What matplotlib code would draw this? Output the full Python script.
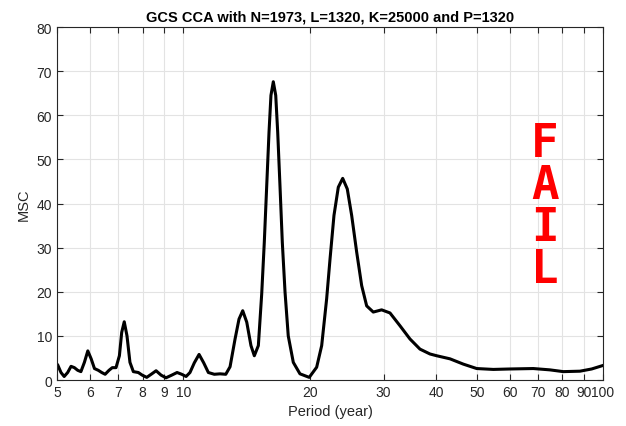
import numpy as np
import matplotlib
matplotlib.use("Agg")
import matplotlib.pyplot as plt

plt.rcParams['font.family'] = ['Liberation Sans', 'DejaVu Sans']

# values
period = [5.00, 5.02, 5.11, 5.20, 5.30, 5.40, 5.50, 5.60, 5.70, 5.81,
          5.92, 6.03, 6.14, 6.27, 6.39, 6.51, 6.65, 6.77, 6.91, 7.04,
          7.13, 7.23, 7.34, 7.46, 7.60, 7.81, 7.98, 8.18, 8.41, 8.61,
          8.85, 9.09, 9.38, 9.66, 9.91, 10.15, 10.37, 10.62, 10.90, 11.18,
          11.47, 11.85, 12.23, 12.62, 12.92, 13.28, 13.57, 13.85, 14.16, 14.49,
          14.76, 15.09, 15.37, 15.59, 15.80, 16.00, 16.17, 16.38, 16.60, 16.78,
          16.99, 17.21, 17.47, 17.78, 18.28, 18.96, 19.95, 20.78, 21.36, 21.95,
          22.36, 22.85, 23.40, 23.97, 24.58, 25.18, 25.88, 26.60, 27.34, 28.35,
          29.68, 31.07, 32.82, 34.67, 36.63, 38.69, 40.14, 43.19, 46.46, 50.0,
          54.77, 60.0, 68.2, 74.7, 80.4, 88.1, 93.96, 100.0]
msc = [3.6, 3.4, 1.7, 0.8, 1.7, 3.1, 2.8, 2.2, 1.9, 4.0,
       6.6, 4.8, 2.6, 2.2, 1.7, 1.3, 2.2, 2.8, 2.8, 5.5,
       10.8, 13.2, 10.0, 4.0, 1.9, 1.7, 1.1, 0.6, 1.4, 2.1,
       1.1, 0.5, 1.1, 1.7, 1.3, 0.8, 1.7, 3.9, 5.8, 3.9,
       1.7, 1.3, 1.4, 1.3, 3.0, 9.3, 13.8, 15.7, 13.1, 7.8,
       5.5, 7.8, 19.5, 31.2, 44.1, 56.2, 64.5, 67.6, 64.5, 56.2,
       44.1, 31.2, 19.9, 10.0, 4.0, 1.4, 0.6, 2.9, 7.8, 18.4,
       27.4, 37.3, 43.7, 45.7, 43.3, 37.3, 29.0, 21.4, 16.8, 15.4,
       15.9, 15.2, 12.3, 9.3, 7.0, 5.9, 5.5, 4.8, 3.6, 2.6,
       2.4, 2.5, 2.6, 2.3, 1.9, 2.0, 2.5, 3.3]

xticks = [5, 6, 7, 8, 9, 10, 20, 30, 40, 50, 60, 70, 80, 90, 100]
yticks = [0, 10, 20, 30, 40, 50, 60, 70, 80]

fig = plt.figure(figsize=(6.26, 4.27), dpi=100)
ax = fig.add_axes([0.0911, 0.1077, 0.8722, 0.8267])

ax.plot(period, msc, color='black', linewidth=2.2, solid_joinstyle='round')

ax.set_xscale('log')
ax.set_xlim(5, 100)
ax.set_ylim(0, 80)
ax.set_xticks(xticks)
ax.set_xticklabels([str(t) for t in xticks])
ax.xaxis.set_minor_locator(matplotlib.ticker.NullLocator())
ax.set_yticks(yticks)

ax.grid(True, color='#e3e3e3', linewidth=0.8)
ax.set_axisbelow(True)
ax.tick_params(direction='in', top=True, right=True, length=4,
               labelsize=10, colors='#262626', labelcolor='#262626')
for s in ax.spines.values():
    s.set_linewidth(0.8)
    s.set_color('#262626')

ax.set_title('GCS CCA with N=1973, L=1320, K=25000 and P=1320',
             fontsize=10.5, fontweight='bold', pad=5)
ax.set_xlabel('Period (year)', fontsize=10.5, color='#262626')
ax.set_ylabel('MSC', fontsize=10.5, color='#262626')

# stacked red label, monospace bold (serifed I like the original)
ax.text(0.894, 0.4915, 'F\nA\nI\nL', transform=ax.transAxes, color='red',
        fontsize=33, fontweight='bold', family='DejaVu Sans Mono',
        ha='center', va='center', linespacing=0.905)

fig.savefig('out.png', dpi=100)
